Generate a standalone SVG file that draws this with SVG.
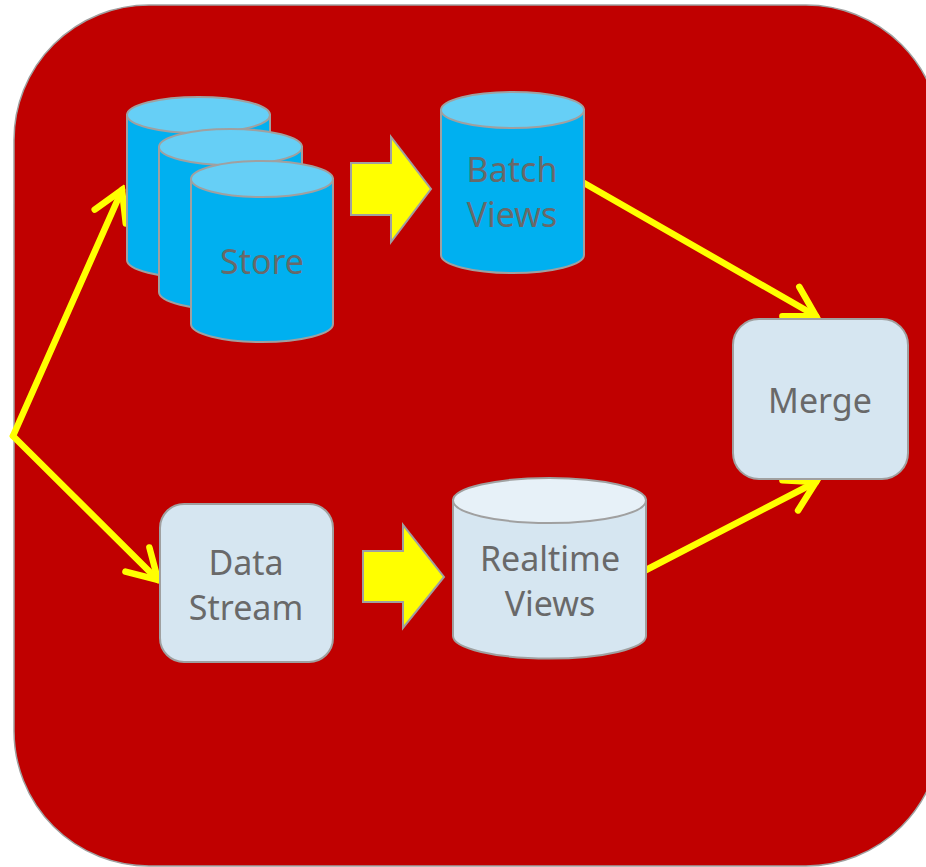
<svg xmlns="http://www.w3.org/2000/svg" width="926" height="867" viewBox="0 0 926 867">
  <defs>
    <style>
      .bg { fill: #C00000; stroke: #A0A0A0; stroke-width: 1.5; }
      .cyl-body { fill: #00B0F0; stroke: #A0A0A0; stroke-width: 2; }
      .cyl-top { fill: #66CFF6; stroke: #A0A0A0; stroke-width: 2; }
      .lcyl-body { fill: #D6E6F1; stroke: #A0A0A0; stroke-width: 2; }
      .lcyl-top { fill: #E7F1F8; stroke: #A0A0A0; stroke-width: 2; }
      .box { fill: #D6E6F1; stroke: #A0A0A0; stroke-width: 2; }
      .block { fill: #FFFF00; stroke: #A0A0A0; stroke-width: 2; stroke-linejoin: miter; }
      .link { fill: none; stroke: #FFFF00; stroke-width: 6.5; stroke-linecap: round; }
      .label { font-family: "Noto Sans", "Open Sans", sans-serif; font-size: 34px; fill: #696969; text-anchor: middle; }
    </style>
    <marker id="chevron" markerUnits="userSpaceOnUse" viewBox="-36 -24 42 48" refX="0" refY="0" markerWidth="42" markerHeight="48" orient="auto">
      <path d="M-29,-17 L0,0 L-29,17" fill="none" stroke="#FFFF00" stroke-width="6.5" stroke-linecap="round" stroke-linejoin="miter"/>
    </marker>
  </defs>

  <!-- background panel -->
  <rect class="bg" x="14" y="5" width="927" height="861" rx="135" ry="135"/>

  <!-- connectors -->
  <g id="connectors">
    <path class="link" d="M13,436 L122,190" marker-end="url(#chevron)"/>
    <path class="link" d="M13,436 L158,580" marker-end="url(#chevron)"/>
    <path class="link" d="M584,183 L816,316" marker-end="url(#chevron)"/>
    <path class="link" d="M646,570 L816,482" marker-end="url(#chevron)"/>
    <path class="block" d="M351,163 L391,163 L391,137 L431,189 L391,242 L391,215 L351,215 Z"/>
    <path class="block" d="M363,551 L403,551 L403,525 L444,577 L403,628 L403,602 L363,602 Z"/>
  </g>

  <!-- store: stack of three cylinders -->
  <g id="store">
    <path class="cyl-body" d="M127,115 L127,260 A71.5,18 0 0 0 270,260 L270,115 Z"/>
    <ellipse class="cyl-top" cx="198.5" cy="115" rx="71.5" ry="18"/>
    <path class="cyl-body" d="M159,147 L159,292 A71.5,18 0 0 0 302,292 L302,147 Z"/>
    <ellipse class="cyl-top" cx="230.5" cy="147" rx="71.5" ry="18"/>
    <path class="cyl-body" d="M191,179 L191,324 A71,18 0 0 0 333,324 L333,179 Z"/>
    <ellipse class="cyl-top" cx="262" cy="179" rx="71" ry="18"/>
    <text class="label" x="262" y="274">Store</text>
  </g>

  <!-- batch views -->
  <g id="batch-views">
    <path class="cyl-body" d="M441,110 L441,255 A71.5,18 0 0 0 584,255 L584,110 Z"/>
    <ellipse class="cyl-top" cx="512.5" cy="110" rx="71.5" ry="18"/>
    <text class="label" x="512" y="182">Batch</text>
    <text class="label" x="512" y="227">Views</text>
  </g>

  <!-- data stream -->
  <g id="data-stream">
    <rect class="box" x="160" y="504" width="173" height="158" rx="24" ry="24"/>
    <text class="label" x="246" y="575">Data</text>
    <text class="label" x="246" y="620">Stream</text>
  </g>

  <!-- realtime views -->
  <g id="realtime-views">
    <path class="lcyl-body" d="M453,500 L453,636 A96.5,22.5 0 0 0 646,636 L646,500 Z"/>
    <ellipse class="lcyl-top" cx="549.5" cy="500.5" rx="96.5" ry="22.5"/>
    <text class="label" x="550" y="571">Realtime</text>
    <text class="label" x="550" y="616">Views</text>
  </g>

  <!-- merge -->
  <g id="merge">
    <rect class="box" x="733" y="319" width="175" height="160" rx="26" ry="26"/>
    <text class="label" x="820" y="413">Merge</text>
  </g>
</svg>
